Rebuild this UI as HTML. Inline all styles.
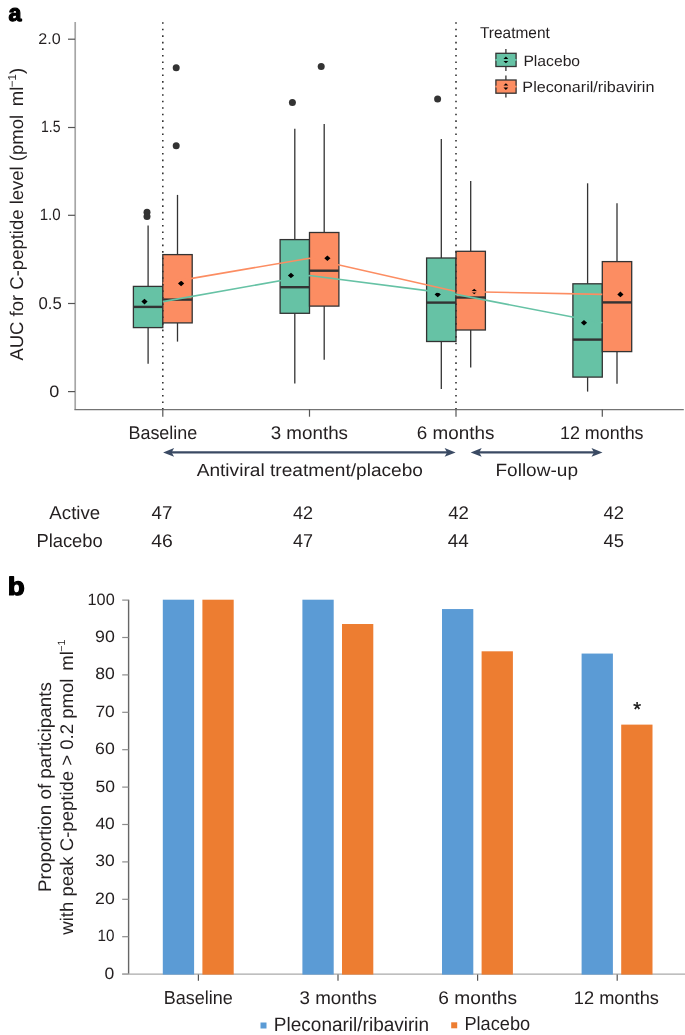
<!DOCTYPE html>
<html><head><meta charset="utf-8"><style>
html,body{margin:0;padding:0;background:#fff;}
svg{display:block;will-change:transform;}
text{font-family:"Liberation Sans", sans-serif;text-rendering:geometricPrecision;}
</style></head><body>
<svg width="685" height="1035" viewBox="0 0 685 1035">
<rect width="685" height="1035" fill="#fff"/>
<line x1="75.2" y1="21.9" x2="75.2" y2="409.6" stroke="#a6a6a6" stroke-width="1.7"/>
<line x1="74.4" y1="409.6" x2="683.8" y2="409.6" stroke="#747474" stroke-width="1.3"/>
<line x1="68" y1="39.2" x2="75" y2="39.2" stroke="#555" stroke-width="1.2"/>
<line x1="68" y1="127.5" x2="75" y2="127.5" stroke="#555" stroke-width="1.2"/>
<line x1="68" y1="215.3" x2="75" y2="215.3" stroke="#555" stroke-width="1.2"/>
<line x1="68" y1="303.5" x2="75" y2="303.5" stroke="#555" stroke-width="1.2"/>
<line x1="68" y1="391.6" x2="75" y2="391.6" stroke="#555" stroke-width="1.2"/>
<line x1="162.8" y1="409.5" x2="162.8" y2="416.7" stroke="#555" stroke-width="1.2"/>
<line x1="309.5" y1="409.5" x2="309.5" y2="416.7" stroke="#555" stroke-width="1.2"/>
<line x1="456.0" y1="409.5" x2="456.0" y2="416.7" stroke="#555" stroke-width="1.2"/>
<line x1="602.3" y1="409.5" x2="602.3" y2="416.7" stroke="#555" stroke-width="1.2"/>
<line x1="148.10" y1="225.5" x2="148.10" y2="286.4" stroke="#333333" stroke-width="1.3"/>
<line x1="148.10" y1="327.6" x2="148.10" y2="363.8" stroke="#333333" stroke-width="1.3"/>
<rect x="133.40" y="286.4" width="29.4" height="41.20" fill="#66c2a5" stroke="#333333" stroke-width="1.3"/>
<line x1="133.40" y1="306.9" x2="162.80" y2="306.9" stroke="#333333" stroke-width="2.4"/>
<circle cx="147" cy="212.3" r="3.5" fill="#333333"/>
<circle cx="147" cy="216.6" r="3.5" fill="#333333"/>
<line x1="177.50" y1="194.9" x2="177.50" y2="254.6" stroke="#333333" stroke-width="1.3"/>
<line x1="177.50" y1="322.9" x2="177.50" y2="341.6" stroke="#333333" stroke-width="1.3"/>
<rect x="162.80" y="254.6" width="29.4" height="68.30" fill="#fc8d62" stroke="#333333" stroke-width="1.3"/>
<line x1="162.80" y1="299.6" x2="192.20" y2="299.6" stroke="#333333" stroke-width="2.4"/>
<circle cx="176.2" cy="67.7" r="3.5" fill="#333333"/>
<circle cx="176.2" cy="145.8" r="3.5" fill="#333333"/>
<line x1="294.80" y1="128.8" x2="294.80" y2="239.6" stroke="#333333" stroke-width="1.3"/>
<line x1="294.80" y1="313.3" x2="294.80" y2="383.5" stroke="#333333" stroke-width="1.3"/>
<rect x="280.10" y="239.6" width="29.4" height="73.70" fill="#66c2a5" stroke="#333333" stroke-width="1.3"/>
<line x1="280.10" y1="287.2" x2="309.50" y2="287.2" stroke="#333333" stroke-width="2.4"/>
<circle cx="292.4" cy="102.6" r="3.5" fill="#333333"/>
<line x1="324.20" y1="124.0" x2="324.20" y2="232.5" stroke="#333333" stroke-width="1.3"/>
<line x1="324.20" y1="306.1" x2="324.20" y2="359.8" stroke="#333333" stroke-width="1.3"/>
<rect x="309.50" y="232.5" width="29.4" height="73.60" fill="#fc8d62" stroke="#333333" stroke-width="1.3"/>
<line x1="309.50" y1="270.7" x2="338.90" y2="270.7" stroke="#333333" stroke-width="2.4"/>
<circle cx="321.2" cy="66.4" r="3.5" fill="#333333"/>
<line x1="441.30" y1="138.9" x2="441.30" y2="258.0" stroke="#333333" stroke-width="1.3"/>
<line x1="441.30" y1="341.5" x2="441.30" y2="389.1" stroke="#333333" stroke-width="1.3"/>
<rect x="426.60" y="258.0" width="29.4" height="83.50" fill="#66c2a5" stroke="#333333" stroke-width="1.3"/>
<line x1="426.60" y1="302.6" x2="456.00" y2="302.6" stroke="#333333" stroke-width="2.4"/>
<circle cx="437.6" cy="98.9" r="3.5" fill="#333333"/>
<line x1="470.70" y1="180.9" x2="470.70" y2="251.3" stroke="#333333" stroke-width="1.3"/>
<line x1="470.70" y1="330.0" x2="470.70" y2="367.5" stroke="#333333" stroke-width="1.3"/>
<rect x="456.00" y="251.3" width="29.4" height="78.70" fill="#fc8d62" stroke="#333333" stroke-width="1.3"/>
<line x1="456.00" y1="297.5" x2="485.40" y2="297.5" stroke="#333333" stroke-width="2.4"/>
<line x1="587.60" y1="183.3" x2="587.60" y2="283.8" stroke="#333333" stroke-width="1.3"/>
<line x1="587.60" y1="377.1" x2="587.60" y2="391.6" stroke="#333333" stroke-width="1.3"/>
<rect x="572.90" y="283.8" width="29.4" height="93.30" fill="#66c2a5" stroke="#333333" stroke-width="1.3"/>
<line x1="572.90" y1="339.6" x2="602.30" y2="339.6" stroke="#333333" stroke-width="2.4"/>
<line x1="617.00" y1="203.3" x2="617.00" y2="261.6" stroke="#333333" stroke-width="1.3"/>
<line x1="617.00" y1="351.6" x2="617.00" y2="383.8" stroke="#333333" stroke-width="1.3"/>
<rect x="602.30" y="261.6" width="29.4" height="90.00" fill="#fc8d62" stroke="#333333" stroke-width="1.3"/>
<line x1="602.30" y1="302.4" x2="631.70" y2="302.4" stroke="#333333" stroke-width="2.4"/>
<path d="M141.40,301.60 L144.50,298.80 L147.60,301.60 L144.50,304.40 Z" fill="#000"/>
<path d="M178.00,283.40 L181.10,280.60 L184.20,283.40 L181.10,286.20 Z" fill="#000"/>
<path d="M287.90,275.50 L291.00,272.70 L294.10,275.50 L291.00,278.30 Z" fill="#000"/>
<path d="M324.30,258.20 L327.40,255.40 L330.50,258.20 L327.40,261.00 Z" fill="#000"/>
<path d="M434.60,294.40 L437.70,291.60 L440.80,294.40 L437.70,297.20 Z" fill="#000"/>
<path d="M471.10,291.50 L474.20,288.70 L477.30,291.50 L474.20,294.30 Z" fill="#000"/>
<path d="M580.90,322.70 L584.00,319.90 L587.10,322.70 L584.00,325.50 Z" fill="#000"/>
<path d="M617.30,294.40 L620.40,291.60 L623.50,294.40 L620.40,297.20 Z" fill="#000"/>
<path d="M162.80,301.60 L309.50,275.50 L456.00,294.40 L602.30,322.70" fill="none" stroke="#66c2a5" stroke-width="1.6"/>
<path d="M162.80,283.40 L309.50,258.20 L456.00,291.50 L602.30,294.40" fill="none" stroke="#fc8d62" stroke-width="1.6"/>
<line x1="162.8" y1="22.2" x2="162.8" y2="409" stroke="#333" stroke-width="1.6" stroke-dasharray="1.6 4.94"/>
<line x1="456.0" y1="22.2" x2="456.0" y2="409" stroke="#333" stroke-width="1.6" stroke-dasharray="1.6 4.94"/>
<line x1="505.9" y1="48.9" x2="505.9" y2="70.9" stroke="#333333" stroke-width="1.3"/>
<rect x="495.9" y="53.3" width="20.2" height="13.2" fill="#66c2a5" stroke="#333333" stroke-width="1.3"/>
<line x1="495.29999999999995" y1="59.9" x2="516.6999999999999" y2="59.9" stroke="#66c2a5" stroke-width="1.8"/>
<path d="M503.5,58.9 L505.9,56.6 L508.29999999999995,58.9 Z M503.5,60.9 L505.9,63.199999999999996 L508.29999999999995,60.9 Z" fill="#000"/>
<line x1="505.9" y1="75.6" x2="505.9" y2="97.6" stroke="#333333" stroke-width="1.3"/>
<rect x="495.9" y="80.0" width="20.2" height="13.2" fill="#fc8d62" stroke="#333333" stroke-width="1.3"/>
<line x1="495.29999999999995" y1="86.6" x2="516.6999999999999" y2="86.6" stroke="#fc8d62" stroke-width="1.8"/>
<path d="M503.5,85.6 L505.9,83.3 L508.29999999999995,85.6 Z M503.5,87.6 L505.9,89.89999999999999 L508.29999999999995,87.6 Z" fill="#000"/>
<line x1="169.1" y1="452.4" x2="449.6" y2="452.4" stroke="#3a4a63" stroke-width="2.3"/><path d="M163.1,452.4 L174.1,448.0 L171.6,452.4 L174.1,456.79999999999995 Z" fill="#3a4a63"/><path d="M455.6,452.4 L444.6,448.0 L447.1,452.4 L444.6,456.79999999999995 Z" fill="#3a4a63"/>
<line x1="476.7" y1="452.4" x2="596.5" y2="452.4" stroke="#3a4a63" stroke-width="2.3"/><path d="M470.7,452.4 L481.7,448.0 L479.2,452.4 L481.7,456.79999999999995 Z" fill="#3a4a63"/><path d="M602.5,452.4 L591.5,448.0 L594.0,452.4 L591.5,456.79999999999995 Z" fill="#3a4a63"/>
<line x1="128.6" y1="599.7" x2="128.6" y2="974" stroke="#666" stroke-width="1.4"/>
<line x1="122.2" y1="974.10" x2="128.6" y2="974.10" stroke="#8c8c8c" stroke-width="1.2"/>
<line x1="122.2" y1="936.70" x2="128.6" y2="936.70" stroke="#8c8c8c" stroke-width="1.2"/>
<line x1="122.2" y1="899.30" x2="128.6" y2="899.30" stroke="#8c8c8c" stroke-width="1.2"/>
<line x1="122.2" y1="861.90" x2="128.6" y2="861.90" stroke="#8c8c8c" stroke-width="1.2"/>
<line x1="122.2" y1="824.50" x2="128.6" y2="824.50" stroke="#8c8c8c" stroke-width="1.2"/>
<line x1="122.2" y1="787.10" x2="128.6" y2="787.10" stroke="#8c8c8c" stroke-width="1.2"/>
<line x1="122.2" y1="749.70" x2="128.6" y2="749.70" stroke="#8c8c8c" stroke-width="1.2"/>
<line x1="122.2" y1="712.30" x2="128.6" y2="712.30" stroke="#8c8c8c" stroke-width="1.2"/>
<line x1="122.2" y1="674.90" x2="128.6" y2="674.90" stroke="#8c8c8c" stroke-width="1.2"/>
<line x1="122.2" y1="637.50" x2="128.6" y2="637.50" stroke="#8c8c8c" stroke-width="1.2"/>
<line x1="122.2" y1="600.10" x2="128.6" y2="600.10" stroke="#8c8c8c" stroke-width="1.2"/>
<line x1="122.2" y1="974.1" x2="685" y2="974.1" stroke="#aaa" stroke-width="1.1"/>
<rect x="162.80" y="599.70" width="31.3" height="374.90" fill="#5b9bd5"/>
<rect x="202.40" y="599.70" width="31.3" height="374.90" fill="#ed7d31"/>
<rect x="302.40" y="599.70" width="31.3" height="374.90" fill="#5b9bd5"/>
<rect x="342.00" y="624.01" width="31.3" height="350.59" fill="#ed7d31"/>
<rect x="442.00" y="609.05" width="31.3" height="365.55" fill="#5b9bd5"/>
<rect x="481.60" y="651.31" width="31.3" height="323.29" fill="#ed7d31"/>
<rect x="581.60" y="653.56" width="31.3" height="321.04" fill="#5b9bd5"/>
<rect x="621.20" y="724.62" width="31.3" height="249.98" fill="#ed7d31"/>
<line x1="198.4" y1="974.5" x2="198.4" y2="980.8" stroke="#555" stroke-width="1.2"/>
<line x1="338.0" y1="974.5" x2="338.0" y2="980.8" stroke="#555" stroke-width="1.2"/>
<line x1="477.6" y1="974.5" x2="477.6" y2="980.8" stroke="#555" stroke-width="1.2"/>
<line x1="617.2" y1="974.5" x2="617.2" y2="980.8" stroke="#555" stroke-width="1.2"/>
<rect x="260.5" y="1022.5" width="6" height="6" fill="#5b9bd5"/>
<rect x="451.2" y="1022.3" width="6" height="6" fill="#ed7d31"/>
<text x="637.2" y="716.2" font-size="20" text-anchor="middle" fill="#111" stroke="#111" stroke-width="0.35">*</text>
<text transform="translate(8.60,21.30) scale(0.9778,1)" font-size="23.81" font-weight="bold" fill="#000" stroke="#000" stroke-width="1.2" stroke-linejoin="round">a</text>
<text transform="translate(38.29,43.80) scale(1.0401,1)" font-size="15.50" font-weight="normal" fill="#231f20">2.0</text>
<text transform="translate(40.94,131.90) scale(0.8607,1)" font-size="16.34" font-weight="normal" fill="#231f20">1.5</text>
<text transform="translate(39.67,220.10) scale(0.9205,1)" font-size="16.41" font-weight="normal" fill="#231f20">1.0</text>
<text transform="translate(38.43,308.60) scale(0.9754,1)" font-size="17.17" font-weight="normal" fill="#231f20">0.5</text>
<text transform="translate(49.18,396.70) scale(1.0973,1)" font-size="16.41" font-weight="normal" fill="#231f20">0</text>
<text transform="translate(479.95,37.75) scale(0.9779,1)" font-size="15.81" font-weight="normal" fill="#231f20">Treatment</text>
<text transform="translate(523.40,66.40) scale(1.0427,1)" font-size="15.06" font-weight="normal" fill="#231f20">Placebo</text>
<text transform="translate(522.37,92.40) scale(1.0744,1)" font-size="15.06" font-weight="normal" fill="#231f20">Pleconaril/ribavirin</text>
<text transform="translate(128.42,438.80) scale(0.9734,1)" font-size="18.47" font-weight="normal" fill="#231f20">Baseline</text>
<text transform="translate(270.70,438.70) scale(1.0251,1)" font-size="18.33" font-weight="normal" fill="#231f20">3 months</text>
<text transform="translate(416.86,438.70) scale(1.0283,1)" font-size="18.33" font-weight="normal" fill="#231f20">6 months</text>
<text transform="translate(559.96,438.70) scale(0.9770,1)" font-size="18.33" font-weight="normal" fill="#231f20">12 months</text>
<text transform="translate(196.65,476.20) scale(1.0857,1)" font-size="17.62" font-weight="normal" fill="#231f20">Antiviral treatment/placebo</text>
<text transform="translate(495.43,475.80) scale(1.0727,1)" font-size="17.76" font-weight="normal" fill="#231f20">Follow-up</text>
<text transform="translate(49.35,518.60) scale(1.0131,1)" font-size="18.47" font-weight="normal" fill="#231f20">Active</text>
<text transform="translate(36.38,547.10) scale(0.9794,1)" font-size="18.75" font-weight="normal" fill="#231f20">Placebo</text>
<text transform="translate(151.58,518.60) scale(1.0041,1)" font-size="18.58" font-weight="normal" fill="#231f20">47</text>
<text transform="translate(293.00,518.60) scale(0.9820,1)" font-size="18.31" font-weight="normal" fill="#231f20">42</text>
<text transform="translate(448.18,518.60) scale(1.0187,1)" font-size="18.31" font-weight="normal" fill="#231f20">42</text>
<text transform="translate(603.58,518.60) scale(1.0082,1)" font-size="18.31" font-weight="normal" fill="#231f20">42</text>
<text transform="translate(151.16,546.70) scale(1.0609,1)" font-size="18.31" font-weight="normal" fill="#231f20">46</text>
<text transform="translate(293.00,546.70) scale(0.9679,1)" font-size="18.58" font-weight="normal" fill="#231f20">47</text>
<text transform="translate(447.68,546.70) scale(1.0156,1)" font-size="18.58" font-weight="normal" fill="#231f20">44</text>
<text transform="translate(603.49,546.70) scale(0.9918,1)" font-size="18.58" font-weight="normal" fill="#231f20">45</text>
<text transform="translate(7.69,594.90) scale(1.1062,1)" font-size="25.24" font-weight="bold" fill="#000" stroke="#000" stroke-width="1.2" stroke-linejoin="round">b</text>
<text transform="translate(163.71,1003.60) scale(0.9601,1)" font-size="18.75" font-weight="normal" fill="#231f20">Baseline</text>
<text transform="translate(299.50,1003.50) scale(1.0251,1)" font-size="18.33" font-weight="normal" fill="#231f20">3 months</text>
<text transform="translate(438.34,1003.50) scale(1.0446,1)" font-size="18.33" font-weight="normal" fill="#231f20">6 months</text>
<text transform="translate(573.83,1003.50) scale(0.9937,1)" font-size="18.33" font-weight="normal" fill="#231f20">12 months</text>
<text transform="translate(273.83,1030.70) scale(0.9779,1)" font-size="19.46" font-weight="normal" fill="#231f20">Pleconaril/ribavirin</text>
<text transform="translate(464.40,1030.40) scale(0.9573,1)" font-size="19.04" font-weight="normal" fill="#231f20">Placebo</text>
<text transform="translate(104.50,978.50) scale(1.0718,1)" font-size="16.41" font-weight="normal" fill="#231f20">0</text>
<text transform="translate(97.46,941.10) scale(0.9284,1)" font-size="16.41" font-weight="normal" fill="#231f20">10</text>
<text transform="translate(95.11,903.70) scale(1.0785,1)" font-size="16.41" font-weight="normal" fill="#231f20">20</text>
<text transform="translate(95.34,866.30) scale(1.0655,1)" font-size="16.41" font-weight="normal" fill="#231f20">30</text>
<text transform="translate(95.41,828.90) scale(1.0619,1)" font-size="16.41" font-weight="normal" fill="#231f20">40</text>
<text transform="translate(95.40,791.50) scale(1.0681,1)" font-size="16.41" font-weight="normal" fill="#231f20">50</text>
<text transform="translate(95.11,754.10) scale(1.0785,1)" font-size="16.41" font-weight="normal" fill="#231f20">60</text>
<text transform="translate(95.43,716.70) scale(1.0606,1)" font-size="16.41" font-weight="normal" fill="#231f20">70</text>
<text transform="translate(95.25,679.30) scale(1.0707,1)" font-size="16.41" font-weight="normal" fill="#231f20">80</text>
<text transform="translate(95.06,641.90) scale(1.0818,1)" font-size="16.41" font-weight="normal" fill="#231f20">90</text>
<text transform="translate(87.58,604.50) scale(0.9913,1)" font-size="16.41" font-weight="normal" fill="#231f20">100</text>
<text transform="translate(22.9,360.6) rotate(-90) scale(1.0,1)" font-size="18.5" fill="#231f20">AUC for C-peptide level (pmol<tspan dx="3.5"> ml</tspan><tspan font-size="11.5" dy="-7" dx="-0.5">−1</tspan><tspan dy="7" dx="0">)</tspan></text>
<text transform="translate(51,892.0) rotate(-90) scale(1.033,1)" font-size="18.3" fill="#231f20">Proportion of participants</text>
<text transform="translate(72.5,934.7) rotate(-90) scale(1.014,1)" font-size="18.3" fill="#231f20">with peak C-peptide &gt; 0.2 pmol<tspan dx="2.8"> ml</tspan><tspan font-size="10.5" dy="-7.5" dx="-0.6">−1</tspan></text>
</svg>
</body></html>
